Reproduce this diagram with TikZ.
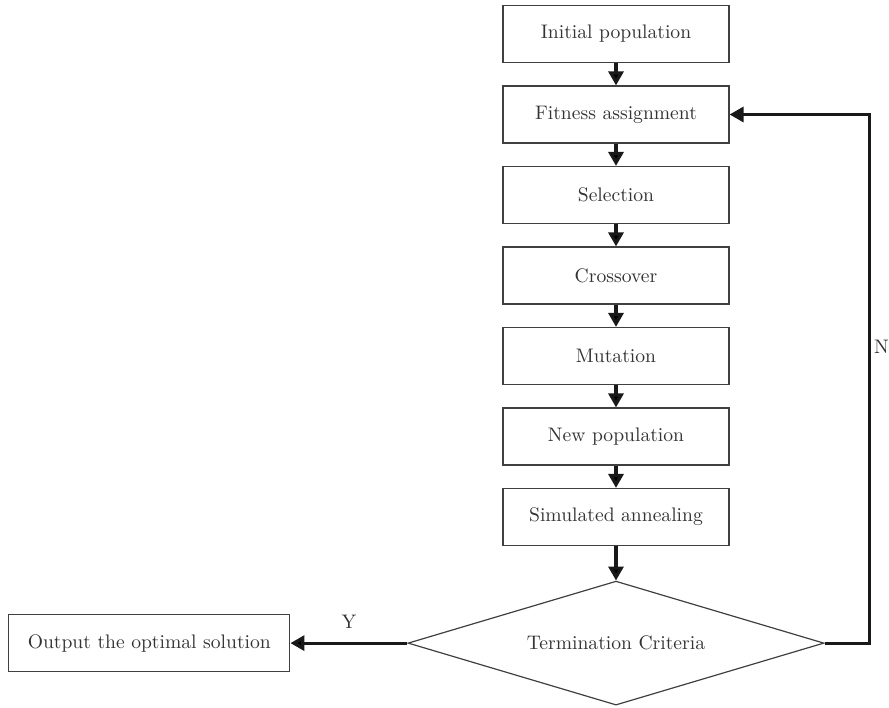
\documentclass[tikz,border=0pt]{standalone}
\usepackage{amsmath}
\usetikzlibrary{arrows.meta,positioning,shapes.geometric}

\begin{document}
\begin{tikzpicture}[>={Triangle[length=7pt,width=7.5pt]}, node distance=11.15pt,
                    line width=1.6pt]
  \tikzstyle{every node}=[font=\fontsize{9.8}{11}\selectfont, text=black!80]
  \tikzstyle{box}=[draw=black!75, line width=0.6pt, rectangle,
                   minimum width=113pt, minimum height=28.5pt, inner sep=2pt]
  \useasboundingbox (0,0) rectangle (444.5pt,-353.5pt);

	\node[box]	(0) at (308pt,-17pt)	{Initial population};
	\node[box]	(1) [below=of 0]		{Fitness assignment};
	\node[box]	(2) [below=of 1]		{Selection};
	\node[box]	(3) [below=of 2]		{Crossover};
	\node[box]	(4) [below=of 3]		{Mutation};
	\node[box]	(5) [below=of 4]		{New population};
	\node[box]	(6) [below=of 5]		{Simulated annealing};
	\node[box, diamond, aspect=3.35, minimum width=208pt, minimum height=62pt,
	      inner sep=0pt]	(7) [below=17.2pt of 6]	{Termination Criteria};
	\node[box, minimum width=140.5pt]	(8) [left=58.5pt of 7]	{Output the optimal solution};

	\path[->, draw=black!90]
    (0) edge (1)
    (1) edge (2)
    (2) edge (3)
    (3) edge (4)
    (4) edge (5)
    (5) edge (6)
    (6) edge (7)
    (7) edge node[above=3pt] {Y} (8);

	\draw[->, draw=black!90] (7.east) -- ++(22.5pt,0)
	  |- node[pos=0.28, right=1.5pt, inner sep=0pt] {N} (1.east);

\end{tikzpicture}
\end{document}
